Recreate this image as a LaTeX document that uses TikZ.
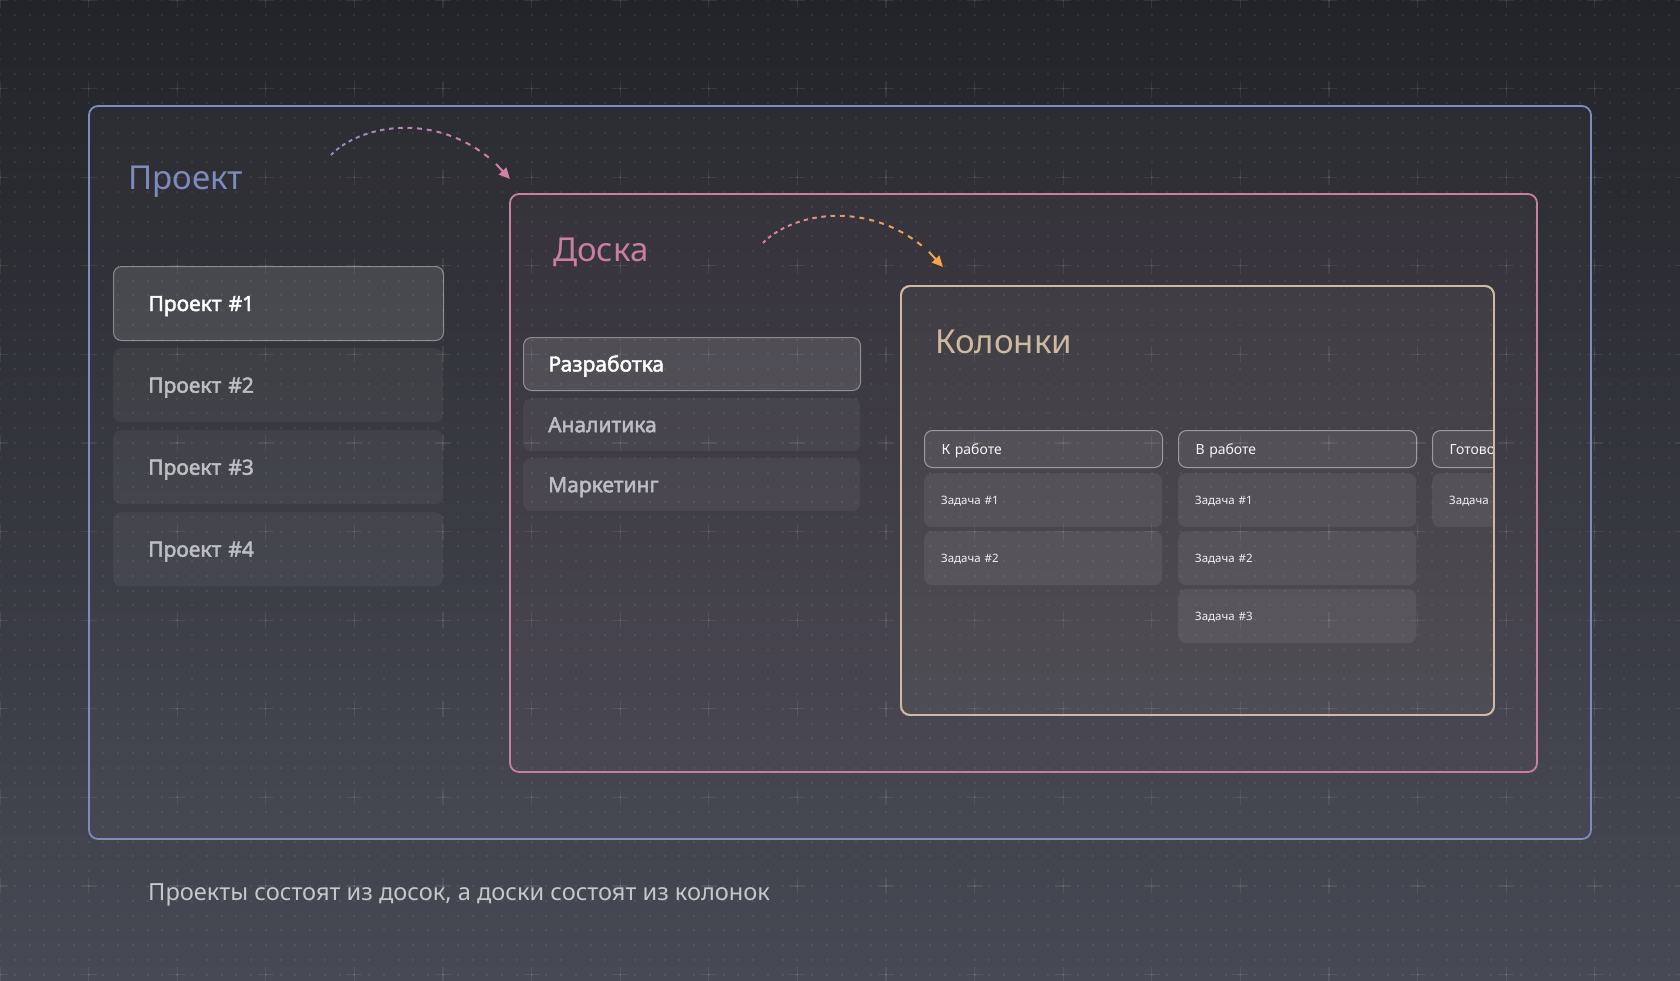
\documentclass[tikz,border=0pt]{standalone}
\usepackage{fontspec}
\setmainfont{Noto Sans}
\newfontfamily\heavyfont{Noto Sans}[FakeBold=2.2]
\usetikzlibrary{arrows.meta,positioning}

\definecolor{bgtop}{HTML}{232429}
\definecolor{bgbot}{HTML}{474954}
\definecolor{projblue}{HTML}{7D8BBD}
\definecolor{boardpink}{HTML}{C97FA3}
\definecolor{colsand}{HTML}{CDBBA1}
\definecolor{itemtxt}{HTML}{BDBEC4}
\definecolor{arcviolet}{HTML}{8E8CC6}
\definecolor{arcpink}{HTML}{D47FA6}
\definecolor{arcorange}{HTML}{F2A548}
\definecolor{captxt}{HTML}{C6C7CD}

\begin{document}
\begin{tikzpicture}[x=1pt, y=-1pt,
    grid dot/.style={line width=2pt, white, opacity=0.07, dash pattern=on 2pt off 12.767pt},
    grid plus/.style={line width=1.3pt, white, opacity=0.08, dash pattern=on 16pt off 72.6pt},
    frame/.style={rounded corners=9pt, line width=1.8pt, anchor=north west, inner sep=0pt, outer sep=0pt},
    proj frame/.style={frame, draw=projblue, fill=white, fill opacity=0.025},
    board frame/.style={frame, draw=boardpink, fill=boardpink, fill opacity=0.05},
    col frame/.style={frame, draw=colsand, fill=colsand, fill opacity=0.06},
    title/.style={anchor=base west, inner sep=0pt, font=\fontsize{33}{40}\selectfont},
    item/.style={rounded corners=8pt, anchor=north west, fill=white, fill opacity=0.05,
      text opacity=1, inner ysep=0pt, align=left, text depth=0pt, text=itemtxt,
      font=\heavyfont\fontsize{21}{25}\selectfont, text height=15pt},
    item on/.style={item, fill opacity=0.11, draw=white, draw opacity=0.4, line width=1pt, text=white},
    col head/.style={rounded corners=8pt, anchor=north west, fill=white, fill opacity=0.07,
      draw=white, draw opacity=0.45, line width=1pt, text opacity=1, text=white!92!gray,
      minimum width=238pt, minimum height=37pt, text width=204pt, inner xsep=17pt, inner ysep=0pt,
      align=left, text height=10pt, text depth=0pt, font=\fontsize{14}{17}\selectfont},
    task/.style={rounded corners=8pt, anchor=north west, fill=white, fill opacity=0.07,
      text opacity=1, text=white!90!gray, minimum width=238pt, minimum height=54pt,
      text width=204pt, inner xsep=17pt, inner ysep=0pt, align=left, text height=8.3pt,
      text depth=0pt, font=\fontsize{11.5}{14}\selectfont},
    dash piece/.style={line width=2pt}]

  \useasboundingbox (0,0) rectangle (1680,980);

  % === Background with dot grid and crosses ===
  \shade[top color=bgtop, bottom color=bgbot] (0,0) rectangle (1680,980);
  \foreach \r in {0,...,66}
    \draw[grid dot] (-1,{\r*14.767}) -- (1681,{\r*14.767});
  \foreach \r in {0,...,11}
    \draw[grid plus] (-8,{\r*88.6}) -- (1690,{\r*88.6});
  \foreach \c in {0,...,18}
    \draw[grid plus] ({\c*88.6},-8) -- ({\c*88.6},990);

  % === Project frame ===
  \node[proj frame, minimum width=1502pt, minimum height=733pt] (proj) at (89,106) {};
  \node[title, text=projblue] (projT) at (128,189) {Проект};

  \node[item on, minimum width=330pt, minimum height=74pt, text width=260pt, inner xsep=35pt]
    (p1) at (113,266) {Проект \#1};
  \foreach \n in {2,3,4}
    \node[item, minimum width=330pt, minimum height=74pt, text width=260pt, inner xsep=35pt]
      (p\n) at (113,{266+82*(\n-1)}) {Проект \#\n};

  % === Board frame ===
  \node[board frame, minimum width=1027pt, minimum height=578pt] (board) at (510,194) {};
  \node[title, text=boardpink] (boardT) at (553,261) {Доска};

  \node[item on, minimum width=337pt, minimum height=53pt, text width=287pt, inner xsep=25pt]
    (b1) at (523,337) {Разработка};
  \node[item, minimum width=337pt, minimum height=53pt, text width=287pt, inner xsep=25pt]
    (b2) at (523,398) {Аналитика};
  \node[item, minimum width=337pt, minimum height=53pt, text width=287pt, inner xsep=25pt]
    (b3) at (523,458) {Маркетинг};

  % === Columns frame ===
  \node[col frame, minimum width=593pt, minimum height=429pt] (cols) at (901,286) {};
  \node[title, text=colsand] (colsT) at (935,353) {Колонки};

  \begin{scope}
    \clip (901,286) rectangle (1493,715);
    \node[col head] (h1) at (924,430) {К работе};
    \node[col head] (h2) at (1178,430) {В работе};
    \node[col head] (h3) at (1432,430) {Готово};
    \node[task] (t11) at (924,473) {Задача \#1};
    \node[task] (t12) at (924,531) {Задача \#2};
    \node[task] (t21) at (1178,473) {Задача \#1};
    \node[task] (t22) at (1178,531) {Задача \#2};
    \node[task] (t23) at (1178,589) {Задача \#3};
    \node[task] (t31) at (1432,473) {Задача \#1};
  \end{scope}
  \draw[frame, draw=colsand] (cols.north west) rectangle (cols.south east);

  % === Dashed arcs (colour blends along the curve) ===
  \coordinate (a1s) at (331,155);
  \coordinate (a1e) at ([yshift=15pt]board.north west);
  \coordinate (a2s) at (763,243);
  \coordinate (a2e) at ([xshift=42pt, yshift=19pt]cols.north west);

  \foreach \s/\e/\ca/\cb in {a1s/a1e/arcviolet/arcpink, a2s/a2e/arcpink/arcorange} {
    \foreach \i in {0,...,18} {
      \pgfmathsetmacro{\ta}{\i/21}
      \pgfmathsetmacro{\tb}{(\i+0.5)/21}
      \pgfmathtruncatemacro{\pct}{100*\i/19}
      \path (\s) .. controls +(34,-35) and +(-56,-69) .. (\e)
        coordinate[pos=\ta] (da) coordinate[pos=\tb] (db);
      \draw[dash piece, \cb!\pct!\ca] (da) -- (db);
    }
    \path (\s) .. controls +(34,-35) and +(-56,-69) .. (\e) coordinate[pos=0.92] (dz);
    \draw[dash piece, \cb, -{Triangle[length=11pt, width=10pt]}] (dz) -- (\e);
  }

  % === Caption ===
  \node[anchor=base west, inner sep=0pt, text=captxt, font=\fontsize{23.6}{30}\selectfont]
    (cap) at (148,900) {Проекты состоят из досок, а доски состоят из колонок};

\end{tikzpicture}
\end{document}
